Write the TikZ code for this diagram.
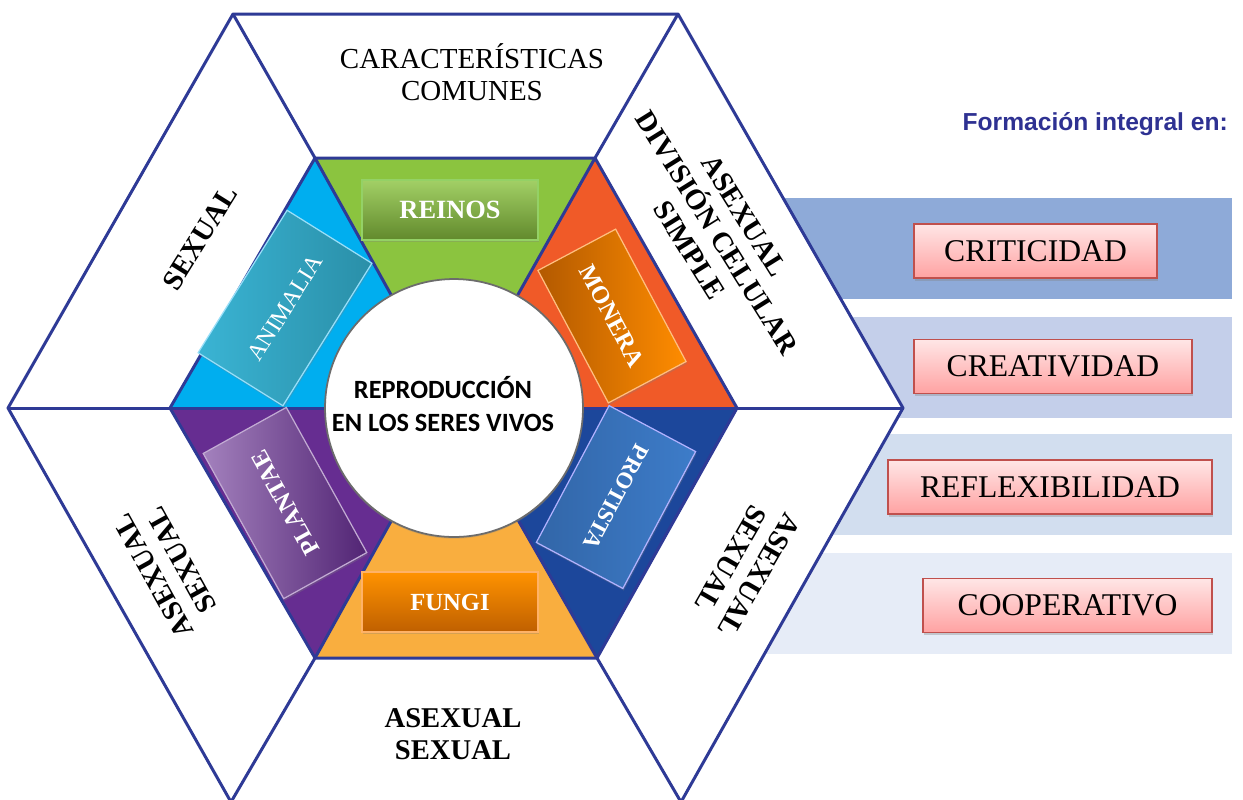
\documentclass[tikz,border=0pt]{standalone}
\usepackage{fontspec}
\setmainfont{Liberation Serif}
\newfontfamily\calibri{Carlito}
\newfontfamily\arial{Liberation Sans}
\usetikzlibrary{shadows}

\definecolor{hexazul}{HTML}{2E3A96}
\definecolor{verde}{HTML}{8BC43F}
\definecolor{rojo}{HTML}{F05A28}
\definecolor{azul}{HTML}{1C479B}
\definecolor{naranja}{HTML}{F9AE3F}
\definecolor{morado}{HTML}{662D91}
\definecolor{cian}{HTML}{00AEEF}
\definecolor{banda1}{HTML}{8EAAD8}
\definecolor{banda2}{HTML}{C4CFEA}
\definecolor{banda3}{HTML}{D2DEEF}
\definecolor{banda4}{HTML}{E6ECF7}
\definecolor{rosaarriba}{HTML}{FFE6E6}
\definecolor{rosaabajo}{HTML}{FFA2A2}
\definecolor{rosaborde}{HTML}{C0504D}
\definecolor{titulo}{HTML}{2E3192}

\begin{document}
\begin{tikzpicture}[x=0.02cm, y=-0.02cm,
	borde/.style={draw=hexazul, line width=1.7pt, line join=round},
	reino/.style={text=white, line width=0.7pt, inner sep=0pt, font=\bfseries\fontsize{14}{16}\selectfont,
		drop shadow={opacity=0.3, shadow xshift=0.5pt, shadow yshift=-1.2pt}},
	etiqueta/.style={align=center, font=\bfseries\fontsize{16.3}{18.4}\selectfont},
	valor/.style={draw=rosaborde, line width=0.8pt, top color=rosaarriba, bottom color=rosaabajo,
		minimum height=1.08cm, inner sep=0pt, font=\fontsize{18}{20}\selectfont,
		drop shadow={opacity=0.35, shadow xshift=0.8pt, shadow yshift=-1.5pt}}]

	\useasboundingbox (0,0) rectangle (1243,799);

	\foreach \y/\col in {198/banda1, 317/banda2, 434/banda3, 553/banda4}{
		\fill[\col] (700,\y) rectangle (1232,\y+101);
	}

	\coordinate (c) at (454,408);
	\coordinate (o1) at (233,14);
	\coordinate (o2) at (678,14);
	\coordinate (o3) at (903,408);
	\coordinate (o4) at (681,802);
	\coordinate (o5) at (231,802);
	\coordinate (o6) at (8,408);
	\coordinate (i1) at (315,158);
	\coordinate (i2) at (595,158);
	\coordinate (i3) at (737,408);
	\coordinate (i4) at (597,658);
	\coordinate (i5) at (315,658);
	\coordinate (i6) at (170,408);

	\fill[white] (o1) -- (o2) -- (o3) -- (o4) -- (o5) -- (o6) -- cycle;

	\foreach \a/\b/\col in {i1/i2/verde, i2/i3/rojo, i3/i4/azul, i4/i5/naranja, i5/i6/morado, i6/i1/cian}{
		\fill[\col] (c) -- (\a) -- (\b) -- cycle;
	}

	\draw[borde] (o1) -- (o2) -- (o3) -- (o4) -- (o5) -- (o6) -- cycle;
	\draw[borde] (i1) -- (i2) -- (i3) -- (i4) -- (i5) -- (i6) -- cycle;
	\foreach \k in {1,...,6}{
		\draw[borde] (o\k) -- (i\k);
		\draw[borde] (c) -- (i\k);
	}

	\node[circle, draw=gray!85!black, line width=1pt, fill=white, minimum size=5.16cm, inner sep=0pt,
		drop shadow={opacity=0.25, shadow xshift=0pt, shadow yshift=-1pt}] (circulo) at (c) {};
	\node[align=center, font=\calibri\bfseries\fontsize{15}{18.8}\selectfont] (centro) at (443,404)
		{REPRODUCCIÓN\\EN LOS SERES VIVOS};

	\node[reino, draw=green!40!olive!60!white, top color=verde!80!white, bottom color=verde!70!black,
		minimum width=3.52cm, minimum height=1.2cm, font=\bfseries\fontsize{15}{17}\selectfont] (reinos) at (450,210) {REINOS};
	\node[reino, draw=orange!60!white, top color=orange!85!yellow, bottom color=orange!75!black,
		minimum width=3.52cm, minimum height=1.2cm] (fungi) at (450,602) {FUNGI};
	\node[reino, draw=orange!50!white, left color=orange!70!black, right color=orange!90!yellow,
		minimum width=3.0cm, minimum height=1.76cm, rotate=-62] (monera) at (612,316) {MONERA};
	\node[reino, draw=blue!30!white, left color={rgb,255:red,50;green,102;blue,168}, right color={rgb,255:red,61;green,124;blue,201},
		minimum width=3.1cm, minimum height=1.96cm, rotate=-118, font=\bfseries\fontsize{13}{15}\selectfont] (protista) at (616,497) {PROTISTA};
	\node[reino, draw=morado!40!white, left color=morado!60!white, right color=morado!80!black,
		minimum width=3.32cm, minimum height=1.9cm, rotate=119] (plantae) at (285,503) {PLANTAE};
	\node[reino, draw=cian!40!white, left color={rgb,255:red,58;green,180;blue,212}, right color={rgb,255:red,42;green,143;blue,168},
		minimum width=3.36cm, minimum height=2cm, rotate=58, font=\fontsize{13.5}{15}\selectfont] (animalia) at (285,308) {ANIMALIA};

	\node[align=center, font=\fontsize{16.5}{18.2}\selectfont] (caracteristicas) at (472,72) {CARACTERÍSTICAS\\COMUNES};
	\node[etiqueta, rotate=58] (sexual) at (200,238) {SEXUAL};
	\node[etiqueta, rotate=-58] (division) at (717,233) {ASEXUAL\\DIVISIÓN CELULAR\\SIMPLE};
	\node[etiqueta, rotate=-120] (ambosder) at (745,567) {ASEXUAL\\SEXUAL};
	\node[etiqueta, rotate=119] (ambosizq) at (167,568) {ASEXUAL\\SEXUAL};
	\node[etiqueta] (ambosinf) at (453,734) {ASEXUAL\\SEXUAL};

	\node[anchor=east, text=titulo, font=\arial\bfseries\fontsize{14}{16}\selectfont] (formacion) at (1234,124) {Formación integral en:};

	\foreach \nombre/\texto/\x/\y/\w in {criticidad/CRITICIDAD/1035.5/251/4.86, creatividad/CREATIVIDAD/1053/366.5/5.56,
		reflexibilidad/REFLEXIBILIDAD/1050/487/6.48, cooperativo/COOPERATIVO/1067.5/605.5/5.78}{
		\node[valor, minimum width=\w cm] (\nombre) at (\x,\y) {\texto};
	}

\end{tikzpicture}
\end{document}
